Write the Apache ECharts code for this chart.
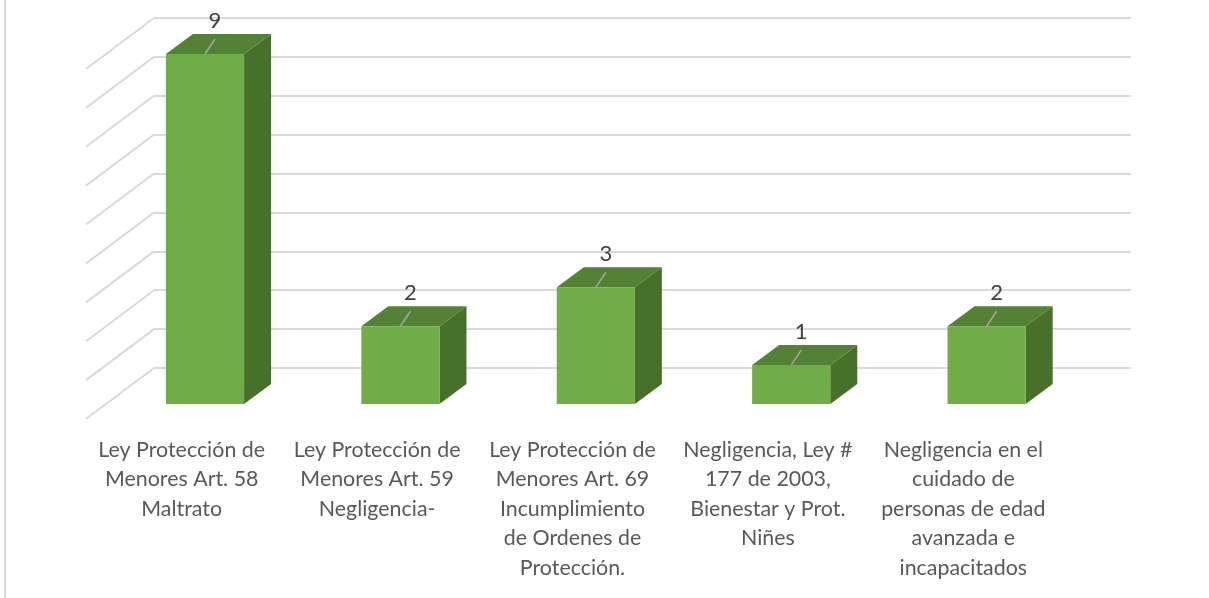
<!DOCTYPE html>
<html>
<head>
<meta charset="utf-8">
<style>html,body{margin:0;padding:0;background:#fff}#c{width:1209px;height:598px}</style>
<script src="https://cdn.jsdelivr.net/npm/echarts@6/dist/echarts.min.js"></script>
</head>
<body>
<div id="c"></div>
<script>
var categories = [
  "Ley Protección de\nMenores Art. 58\nMaltrato",
  "Ley Protección de\nMenores Art. 59\nNegligencia-",
  "Ley Protección de\nMenores Art. 69\nIncumplimiento\nde Ordenes de\nProtección.",
  "Negligencia, Ley #\n177 de 2003,\nBienestar y Prot.\nNiñes",
  "Negligencia en el\ncuidado de\npersonas de edad\navanzada e\nincapacitados"
];
var values = [9, 2, 3, 1, 2];
var yTicks = [0, 1, 2, 3, 4, 5, 6, 7, 8, 9];

var FONT = 'Lato, "Open Sans", sans-serif';
var chart = echarts.init(document.getElementById('c'), null, {renderer: 'canvas'});

function wallItem(params, api) {
  var p = api.coord([0, api.value(0)]);
  var lx = p[0] - api.size([1, 0])[0] / 2;
  return {
    type: 'line',
    shape: {x1: lx, y1: p[1], x2: lx - 68, y2: p[1] + 51},
    style: {stroke: '#DADADA', lineWidth: 2}
  };
}

function barItem(params, api) {
  var c = api.value(0), v = api.value(1);
  var top = api.coord([c, v]), base = api.coord([c, 0]);
  var w = api.size([1, 0])[0] * 0.4;
  var ox = -46.7, oy = 36, dx = 27, dy = -20;
  var l = top[0] + ox - w / 2, r = l + w, t = top[1] + oy, b = base[1] + oy;
  var mx = (l + r) / 2;
  return {
    type: 'group',
    children: [
      {type: 'polygon', shape: {points: [[r, t], [r + dx, t + dy], [r + dx, b + dy], [r, b]]}, style: {fill: '#47702B'}},
      {type: 'polygon', shape: {points: [[l, t], [l + dx, t + dy], [r + dx, t + dy], [r, t]]}, style: {fill: '#548235'}},
      {type: 'rect', shape: {x: l, y: t, width: w, height: b - t}, style: {fill: '#70AD47'}},
      {type: 'line', shape: {x1: mx, y1: t, x2: mx + 10, y2: t - 15}, style: {stroke: '#A6A6A6', lineWidth: 1.5}},
      {type: 'text', x: mx + 10, y: t - 33, style: {text: String(v), fill: '#404040', font: '22px ' + FONT, textAlign: 'center', textVerticalAlign: 'middle'}}
    ]
  };
}

chart.setOption({
  animation: false,
  backgroundColor: '#fff',
  grid: [
    {left: 154, right: 78, top: 18, bottom: 230},
    {left: 84, width: 977, top: 100, bottom: 168}
  ],
  xAxis: [
    {type: 'category', gridIndex: 0, data: categories, axisLine: {show: false}, axisTick: {show: false}, axisLabel: {show: false}},
    {type: 'category', gridIndex: 1, data: categories, axisLine: {show: false}, axisTick: {show: false},
     axisLabel: {show: true, interval: 0, margin: 5, color: '#595959', fontFamily: FONT, fontSize: 21.4, lineHeight: 29.6, align: 'center', verticalAlign: 'top'}}
  ],
  yAxis: [
    {type: 'value', gridIndex: 0, min: 0, max: 9, interval: 1, axisLine: {show: false}, axisTick: {show: false}, axisLabel: {show: false},
     splitLine: {show: true, lineStyle: {color: '#DADADA', width: 2}}},
    {type: 'value', gridIndex: 1, min: 0, max: 9, interval: 1, show: false, splitLine: {show: false}}
  ],
  graphic: [{type: 'line', silent: true, shape: {x1: 5, y1: 0, x2: 5, y2: 598}, style: {stroke: '#DADADA', lineWidth: 2}}],
  series: [
    {type: 'custom', xAxisIndex: 0, yAxisIndex: 0, clip: false, silent: true, z: 2, renderItem: wallItem, encode: {y: 0},
     data: yTicks.map(function (t) { return [t]; })},
    {type: 'custom', xAxisIndex: 0, yAxisIndex: 0, clip: false, silent: true, z: 3, renderItem: barItem, encode: {x: 0, y: 1},
     data: values.map(function (v, i) { return [i, v]; })}
  ]
});
</script>
</body>
</html>
